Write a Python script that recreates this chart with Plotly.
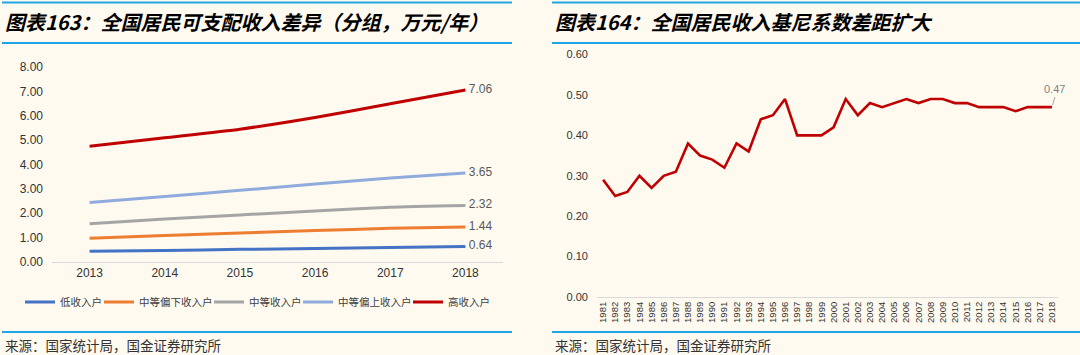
import plotly.graph_objects as go

# ---------------- data ----------------
years_left = ["2013", "2014", "2015", "2016", "2017", "2018"]
low_income = [0.44, 0.47, 0.52, 0.55, 0.60, 0.64]
lower_middle = [0.97, 1.09, 1.19, 1.29, 1.38, 1.44]
middle = [1.57, 1.76, 1.93, 2.09, 2.25, 2.32]
upper_middle = [2.44, 2.69, 2.94, 3.20, 3.45, 3.65]
high_income = [4.75, 5.10, 5.45, 5.93, 6.49, 7.06]
series_names = ["低收入户", "中等偏下收入户", "中等收入户", "中等偏上收入户", "高收入户"]
left_yticks = [0, 1, 2, 3, 4, 5, 6, 7, 8]

years_right = [str(y) for y in range(1981, 2019)]
gini = [0.29, 0.25, 0.26, 0.30, 0.27, 0.30, 0.31, 0.38, 0.35, 0.34,
        0.32, 0.38, 0.36, 0.44, 0.45, 0.49, 0.40, 0.40, 0.40, 0.42,
        0.49, 0.45, 0.48, 0.47, 0.48, 0.49, 0.48, 0.49, 0.49, 0.48,
        0.48, 0.47, 0.47, 0.47, 0.46, 0.47, 0.47, 0.47]
right_yticks = [0, 0.1, 0.2, 0.3, 0.4, 0.5, 0.6]

title_left = "图表163：全国居民可支配收入差异（分组，万元/年）"
title_right = "图表164：全国居民收入基尼系数差距扩大"
source_text = "来源：国家统计局，国金证券研究所"

# ---------------- styles ----------------
BG = "#FFFAF0"
RULE = "#1EA5E6"
colors = ["#4472C4", "#ED7D31", "#A5A5A5", "#8FAADC", "#C00000"]
W, H = 1080, 355
FONT = "Liberation Sans, Arial, sans-serif"
CJK = "Noto Sans CJK SC"


def py(y):
    return (H - y) / H


def px(x):
    return x / W


fig = go.Figure()

legend_ids = ["legend", "legend2", "legend3", "legend4", "legend5"]
legend_text_x = [60, 139, 249, 338, 448]

all_left = [low_income, lower_middle, middle, upper_middle, high_income]
for name, vals, col, lid in zip(series_names, all_left, colors, legend_ids):
    txt = [""] * (len(vals) - 1) + [" %.2f" % vals[-1]]
    fig.add_trace(go.Scatter(
        x=years_left, y=vals, name=name, mode="lines+text",
        text=txt, textposition="middle right",
        textfont=dict(family=FONT, size=12, color="#595959"),
        line=dict(color=col, width=3, shape="spline", smoothing=0.5),
        xaxis="x", yaxis="y", cliponaxis=False, hoverinfo="skip",
        legend=lid))

fig.add_trace(go.Scatter(
    x=years_right, y=gini, mode="lines", showlegend=False,
    line=dict(color="#C00000", width=2.6),
    xaxis="x2", yaxis="y2", hoverinfo="skip"))

layout_legends = {}
for lid, tx in zip(legend_ids, legend_text_x):
    layout_legends[lid] = dict(
        orientation="h", x=px(tx - 40), y=py(302), xanchor="left", yanchor="middle",
        font=dict(family=CJK, size=10.5, color="#404040"),
        bgcolor="rgba(0,0,0,0)", itemwidth=30, borderwidth=0)

fig.update_layout(
    template="none",
    width=W, height=H, margin=dict(l=0, r=0, t=0, b=0, pad=0, autoexpand=False),
    paper_bgcolor=BG, plot_bgcolor=BG,
    font=dict(family=FONT, color="#404040"),
    xaxis=dict(domain=[px(52), px(503)], type="category",
               range=[-0.5, len(years_left) - 0.5],
               showgrid=False, showline=True, linecolor="#D9D9D9", linewidth=1,
               ticks="", tickfont=dict(size=12, color="#333333"),
               anchor="y", automargin=False),
    yaxis=dict(domain=[py(262), py(67)], range=[0, 8], tickvals=left_yticks,
               tickformat=".2f", showgrid=False, zeroline=False, showline=False,
               ticks="", ticklabelstandoff=8, automargin=False,
               tickfont=dict(size=12, color="#333333"), anchor="x"),
    xaxis2=dict(domain=[px(597), px(1058)], type="category",
                range=[-0.5, len(years_right) - 0.5],
                showgrid=False, showline=True, linecolor="#D9D9D9", linewidth=1,
                ticks="", tickangle=-90, tickfont=dict(size=9.5, color="#333333"),
                anchor="y2", automargin=False),
    yaxis2=dict(domain=[py(297), py(54.6)], range=[0, 0.6], tickvals=right_yticks,
                tickformat=".2f", showgrid=False, zeroline=False, showline=False,
                ticks="", ticklabelstandoff=8, automargin=False,
                tickfont=dict(size=11, color="#333333"), anchor="x2"),
    showlegend=True,
    **layout_legends,
)

# rules (blue lines)
shapes = []
for (x0, x1) in [(2, 512), (552, 1080)]:
    for y in [2.5, 43, 332]:
        shapes.append(dict(type="line", xref="paper", yref="paper",
                           x0=px(x0), x1=px(x1), y0=py(y), y1=py(y),
                           line=dict(color=RULE, width=2)))
fig.update_layout(shapes=shapes)

ann = []
for x0, t in [(3, title_left), (553, title_right)]:
    ann.append(dict(text=t, xref="paper", yref="paper", x=px(x0), y=py(21),
                    xanchor="left", yanchor="middle", showarrow=False,
                    font=dict(family=CJK, size=20, color="#000000",
                              weight="bold", style="italic")))
    ann.append(dict(text=source_text, xref="paper", yref="paper", x=px(x0), y=py(345),
                    xanchor="left", yanchor="middle", showarrow=False,
                    font=dict(family=CJK, size=13.5, color="#333333")))
# label on last gini point (category index of the last year)
ann.append(dict(text="%.2f" % gini[-1], xref="x2", yref="y2",
                x=len(years_right) - 1, y=gini[-1], ax=3, ay=-10,
                showarrow=True, arrowhead=0, arrowwidth=1, arrowcolor="#A6A6A6",
                standoff=2, yanchor="bottom",
                font=dict(family=FONT, size=11, color="#7F7F7F")))
fig.update_layout(annotations=ann)

fig.write_html("out.html", config={"displayModeBar": False},
               post_script="document.body.style.margin='0';")
